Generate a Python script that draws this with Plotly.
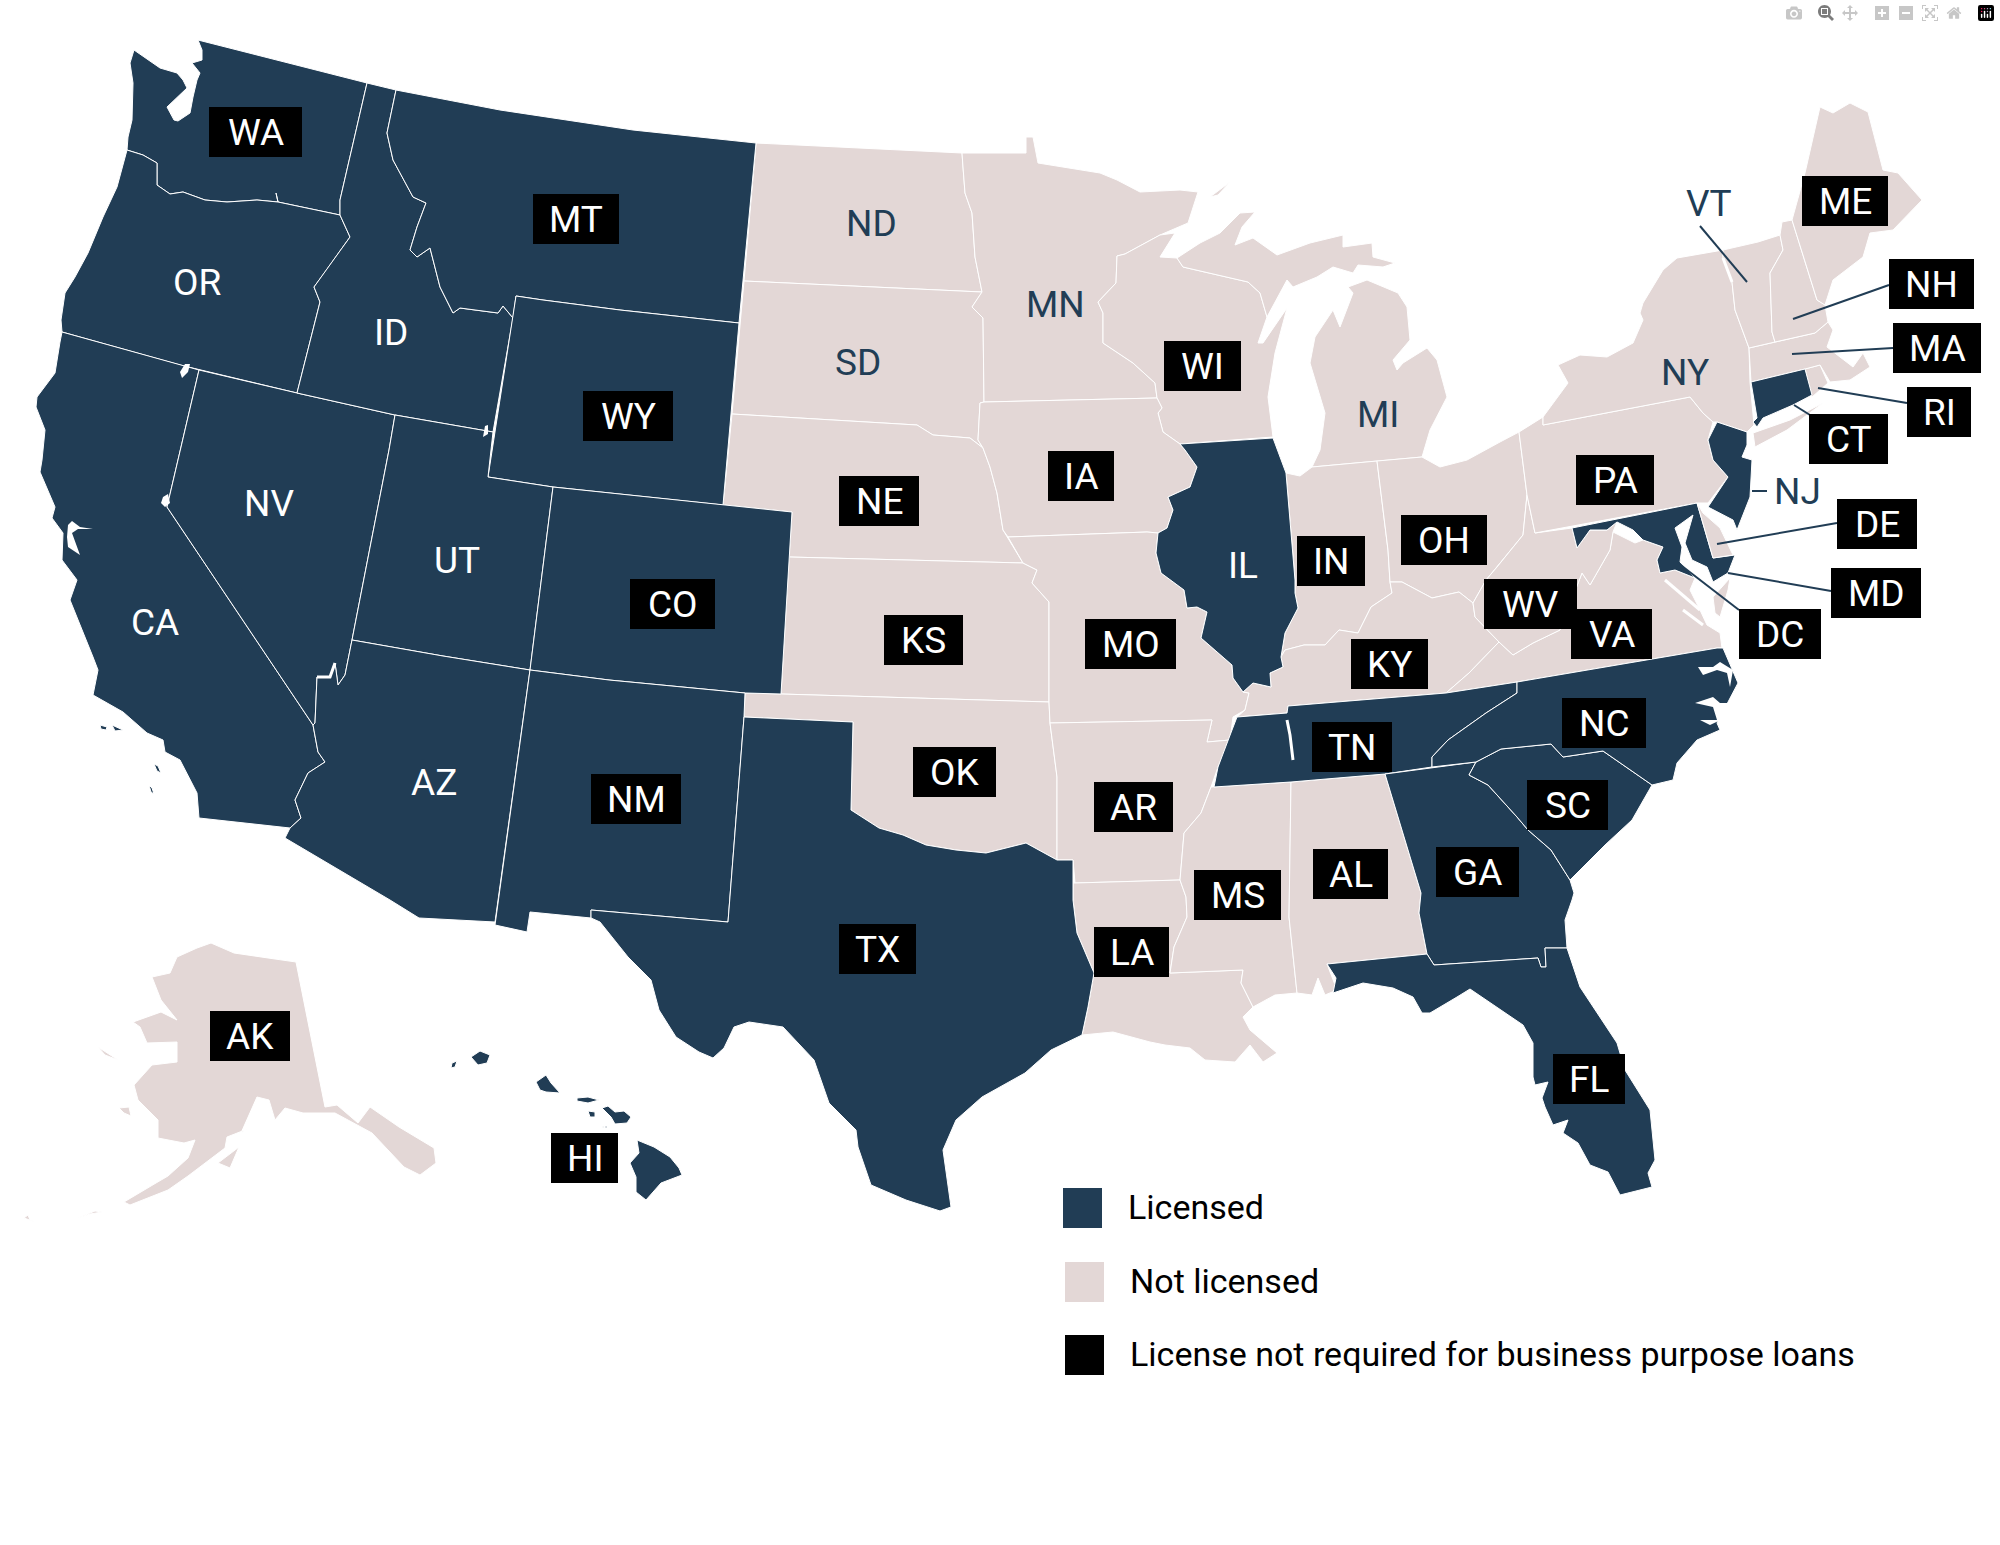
import plotly.graph_objects as go

# State outlines (picture units, y down)
WA = [(198,40),(367,83),(340,200),(340,215),(278,202),(276,193),(278,202),(257,200),(227,202),(205,200),(183,192),(170,194),(157,185),(157,163),(143,155),(127,150),(128,137),(132,120),(133,83),(130,63),(134,50),(160,68),(177,73),(183,80),(187,88),(167,107),(174,120),(178,121),(190,113),(193,97),(197,80),(200,73),(192,63),(202,60),(202,50)]
OR = [(127,150),(143,155),(157,163),(157,185),(170,194),(183,192),(205,200),(227,202),(257,200),(278,202),(340,215),(350,237),(325,272),(314,287),(320,302),(297,393),(180,365),(62,332),(61,320),(65,293),(75,277),(88,253),(103,217),(117,187)]
CA = [(62,332),(180,365),(199,370),(167,507),(313,725),(318,752),(325,762),(308,773),(295,800),(301,818),(290,828),(199,818),(197,793),(180,760),(165,752),(163,740),(147,733),(123,712),(93,695),(98,670),(93,657),(70,600),(77,580),(62,560),(63,533),(52,518),(55,507),(40,472),(42,460),(45,430),(36,407),(37,397),(55,373),(60,342)]
CA_ISLANDS = [[(100,725),(107,727),(106,730),(101,729)],[(112,725),(118,728),(123,730),(115,731)],[(154,764),(158,766),(161,773),(157,771)],[(149,785),(152,788),(154,794),(151,792)]]
NV = [(199,370),(297,393),(395,415),(389,450),(352,640),(345,675),(338,685),(335,663),(330,677),(317,677),(315,723),(313,725),(167,507)]
ID = [(367,83),(396,90),(387,133),(393,160),(413,197),(426,203),(417,227),(410,250),(417,257),(430,248),(440,287),(453,313),(460,308),(498,313),(503,306),(513,318),(493,432),(395,415),(297,393),(320,302),(314,287),(325,272),(350,237),(340,215),(340,200)]
MT = [(396,90),(500,110),(633,130),(756,143),(739,323),(620,310),(543,300),(516,296),(513,318),(503,306),(498,313),(460,308),(453,313),(440,287),(430,248),(417,257),(410,250),(417,227),(426,203),(413,197),(393,160),(387,133)]
WY = [(516,296),(543,300),(620,310),(739,323),(723,505),(553,487),(488,477)]
UT = [(395,415),(493,432),(488,477),(553,487),(530,670),(443,656),(352,640),(389,450)]
CO = [(553,487),(723,505),(792,512),(781,694),(745,693),(609,680),(530,670)]
AZ = [(352,640),(443,656),(530,670),(495,922),(419,918),(390,900),(285,838),(290,828),(301,818),(295,800),(308,773),(325,762),(318,752),(313,725),(315,723),(317,677),(330,677),(335,663),(338,685),(345,675)]
NM = [(530,670),(609,680),(745,693),(744,717),(728,922),(591,910),(591,918),(530,912),(527,932),(495,925)]
TX = [(744,717),(853,722),(851,810),(879,828),(903,835),(926,845),(956,850),(986,853),(1026,843),(1057,860),(1073,860),(1073,900),(1077,933),(1094,973),(1088,1007),(1082,1035),(1051,1050),(1025,1073),(982,1097),(956,1120),(943,1150),(951,1207),(940,1211),(906,1200),(871,1185),(858,1147),(856,1130),(829,1103),(814,1060),(783,1027),(749,1022),(734,1027),(724,1048),(713,1058),(699,1052),(676,1037),(659,1010),(651,980),(628,957),(600,922),(591,918),(591,910),(728,922)]
ND = [(756,143),(962,153),(963,167),(965,193),(972,213),(975,257),(982,292),(744,281)]
SD = [(744,281),(982,292),(972,307),(983,318),(984,402),(980,403),(978,440),(983,448),(970,438),(933,435),(917,425),(732,414)]
NE = [(732,414),(917,425),(933,435),(970,438),(983,448),(990,467),(997,493),(1003,530),(1023,563),(789,557),(792,512),(723,505)]
KS = [(789,557),(1023,563),(1037,570),(1032,583),(1049,602),(1049,702),(781,694)]
OK = [(781,694),(1049,702),(1050,723),(1057,777),(1057,860),(1026,843),(986,853),(956,850),(926,845),(903,835),(879,828),(851,810),(853,722),(744,717),(745,693)]
MN = [(962,153),(1026,153),(1026,137),(1033,137),(1038,163),(1080,170),(1100,173),(1117,180),(1140,192),(1180,190),(1198,192),(1188,223),(1160,235),(1125,254),(1117,256),(1116,283),(1098,302),(1103,313),(1103,343),(1133,363),(1155,383),(1157,398),(984,402),(983,318),(972,307),(982,292),(975,257),(972,213),(965,193),(963,167)]
MN_ISLE = [(1210,197),(1230,182),(1218,195)]
WI = [(1117,256),(1125,254),(1160,235),(1175,233),(1160,257),(1177,258),(1183,267),(1248,282),(1260,293),(1267,317),(1258,343),(1263,343),(1287,308),(1282,327),(1275,353),(1268,397),(1273,437),(1180,444),(1163,432),(1158,413),(1162,408),(1157,398),(1155,383),(1133,363),(1103,343),(1103,313),(1098,302),(1116,283)]
MI_UPPER = [(1177,258),(1200,243),(1220,233),(1240,213),(1255,212),(1242,227),(1235,245),(1253,238),(1277,255),(1310,243),(1343,235),(1343,247),(1372,243),(1373,257),(1395,263),(1383,267),(1358,265),(1353,273),(1333,267),(1317,277),(1293,287),(1287,280),(1267,317),(1260,293),(1248,282),(1183,267)]
MI_LOWER = [(1312,467),(1377,461),(1422,457),(1430,430),(1447,397),(1437,360),(1427,348),(1403,363),(1397,370),(1393,360),(1410,340),(1407,307),(1398,293),(1367,280),(1348,287),(1353,293),(1340,327),(1333,310),(1315,337),(1310,363),(1325,413),(1320,450)]
IA = [(984,402),(1157,398),(1162,408),(1158,413),(1163,432),(1180,444),(1185,450),(1197,467),(1190,487),(1168,497),(1173,510),(1167,528),(1158,533),(1147,532),(1008,537),(1003,530),(997,493),(990,467),(983,448),(978,440),(980,403)]
MO = [(1008,537),(1147,532),(1158,533),(1156,553),(1161,573),(1184,590),(1187,608),(1197,607),(1207,612),(1201,638),(1232,665),(1233,678),(1243,692),(1249,693),(1245,710),(1233,717),(1230,740),(1207,742),(1212,720),(1050,723),(1049,702),(1049,602),(1032,583),(1037,570),(1023,563)]
IL = [(1180,444),(1273,438),(1286,473),(1295,580),(1295,593),(1298,608),(1285,633),(1281,657),(1283,667),(1270,673),(1271,687),(1253,683),(1243,692),(1233,678),(1232,665),(1201,638),(1207,612),(1197,607),(1187,608),(1184,590),(1161,573),(1156,553),(1158,533),(1167,528),(1173,510),(1168,497),(1190,487),(1197,467),(1185,450)]
IN = [(1286,473),(1300,476),(1312,467),(1377,461),(1388,550),(1390,582),(1392,593),(1371,607),(1358,633),(1339,630),(1325,645),(1304,645),(1285,650),(1281,657),(1285,633),(1298,608),(1295,593),(1295,580)]
OH = [(1377,461),(1422,457),(1440,467),(1467,460),(1500,442),(1519,432),(1527,495),(1523,535),(1505,557),(1497,567),(1486,580),(1473,603),(1459,592),(1432,598),(1402,582),(1390,582),(1388,550)]
KY = [(1237,717),(1287,713),(1288,706),(1446,693),(1469,673),(1499,642),(1475,617),(1473,603),(1459,592),(1432,598),(1402,582),(1390,582),(1392,593),(1371,607),(1358,633),(1339,630),(1325,645),(1304,645),(1285,650),(1281,657),(1283,667),(1270,673),(1271,687),(1253,683),(1243,692),(1249,693),(1245,710)]
TN = [(1237,717),(1287,713),(1288,706),(1446,693),(1517,682),(1517,693),(1486,713),(1448,740),(1432,757),(1432,767),(1385,774),(1291,782),(1214,787),(1218,767),(1232,730)]
AR = [(1050,723),(1212,720),(1207,742),(1230,740),(1218,767),(1211,787),(1201,813),(1184,833),(1180,880),(1075,883),(1073,860),(1057,860),(1057,777)]
LA = [(1075,883),(1180,880),(1186,897),(1187,917),(1174,947),(1170,973),(1243,970),(1241,983),(1253,1007),(1243,1017),(1250,1030),(1277,1053),(1263,1062),(1250,1045),(1235,1062),(1205,1060),(1190,1048),(1165,1045),(1150,1042),(1113,1032),(1082,1035),(1088,1007),(1094,973),(1077,933),(1073,900),(1073,883)]
MS = [(1211,787),(1291,782),(1289,917),(1297,993),(1275,995),(1253,1007),(1241,983),(1243,970),(1170,973),(1174,947),(1187,917),(1186,897),(1180,880),(1184,833),(1201,813)]
AL = [(1291,782),(1385,774),(1421,893),(1419,913),(1427,954),(1327,964),(1337,990),(1325,995),(1318,978),(1312,995),(1297,993),(1289,917)]
GA = [(1385,774),(1476,762),(1469,775),(1488,785),(1517,817),(1528,830),(1551,850),(1570,880),(1574,893),(1572,900),(1565,920),(1567,948),(1545,948),(1546,967),(1541,967),(1538,958),(1434,965),(1427,954),(1419,913),(1421,893)]
FL = [(1327,964),(1427,954),(1434,965),(1538,958),(1541,967),(1546,967),(1545,948),(1567,948),(1580,987),(1617,1043),(1625,1070),(1650,1110),(1655,1160),(1648,1173),(1652,1187),(1620,1195),(1608,1172),(1590,1165),(1578,1143),(1563,1133),(1568,1120),(1553,1125),(1545,1107),(1542,1098),(1548,1082),(1535,1085),(1533,1077),(1533,1043),(1523,1025),(1497,1007),(1470,989),(1457,997),(1430,1013),(1422,1013),(1413,997),(1393,988),(1363,983),(1333,993),(1336,978)]
SC = [(1476,762),(1501,749),(1551,744),(1563,757),(1603,751),(1652,785),(1632,820),(1605,845),(1570,880),(1551,850),(1528,830),(1517,817),(1488,785),(1469,775)]
NC = [(1517,682),(1717,648),(1723,648),(1738,683),(1717,723),(1720,730),(1697,740),(1677,763),(1673,780),(1652,785),(1603,751),(1563,757),(1551,744),(1501,749),(1476,762),(1432,767),(1432,757),(1448,740),(1486,713),(1517,693)]
VA = [(1446,693),(1469,673),(1499,642),(1513,655),(1533,643),(1560,630),(1582,573),(1590,585),(1610,550),(1613,532),(1635,543),(1643,540),(1663,547),(1657,560),(1660,573),(1675,570),(1695,578),(1690,590),(1700,610),(1707,625),(1720,633),(1722,648),(1717,648),(1517,682)]
VA_SHORE = [(1713,597),(1730,578),(1728,590),(1720,617),(1715,613)]
WV = [(1527,495),(1535,533),(1572,528),(1577,548),(1590,530),(1607,530),(1617,522),(1613,532),(1610,550),(1590,585),(1582,573),(1560,630),(1533,643),(1513,655),(1499,642),(1475,617),(1473,603),(1486,580),(1497,567),(1505,557),(1523,535)]
PA = [(1519,432),(1543,417),(1543,425),(1690,397),(1703,413),(1713,422),(1708,440),(1713,460),(1728,477),(1708,503),(1697,503),(1535,533),(1527,495)]
NY = [(1543,417),(1568,383),(1558,365),(1580,355),(1607,357),(1633,343),(1643,320),(1640,313),(1643,303),(1663,270),(1677,258),(1723,250),(1723,258),(1732,282),(1735,310),(1749,348),(1750,382),(1754,425),(1747,432),(1717,422),(1713,422),(1703,413),(1690,397),(1543,425)]
NY_ISLAND = [(1753,433),(1790,420),(1823,403),(1787,430),(1755,447)]
NJ = [(1717,422),(1747,432),(1747,445),(1742,457),(1752,460),(1750,497),(1737,530),(1733,520),(1708,507),(1728,477),(1713,460),(1708,440)]
DE = [(1697,503),(1703,513),(1720,528),(1733,555),(1713,558)]
MD = [(1572,528),(1697,503),(1713,558),(1735,555),(1728,573),(1713,582),(1707,567),(1692,560),(1685,543),(1693,515),(1675,528),(1682,547),(1680,562),(1695,578),(1675,570),(1660,573),(1657,560),(1663,547),(1643,540),(1633,530),(1617,522),(1607,530),(1590,530),(1577,548)]
CT = [(1751,382),(1805,369),(1812,395),(1793,405),(1763,418),(1757,427),(1753,422),(1757,418)]
RI = [(1805,369),(1820,365),(1828,383),(1812,397)]
MA = [(1749,348),(1815,333),(1828,322),(1833,330),(1827,347),(1853,367),(1863,353),(1870,367),(1850,380),(1830,382),(1820,365),(1805,369),(1751,382)]
VT = [(1723,250),(1758,242),(1780,235),(1783,250),(1770,273),(1772,332),(1775,342),(1749,348),(1735,310),(1732,282),(1723,258)]
NH = [(1782,222),(1792,220),(1817,300),(1825,305),(1828,322),(1815,333),(1775,342),(1772,332),(1770,273),(1783,250),(1780,235)]
ME = [(1792,220),(1805,173),(1820,107),(1833,113),(1850,103),(1868,112),(1883,170),(1898,173),(1922,200),(1893,230),(1870,233),(1863,257),(1833,280),(1825,305),(1817,300)]
AK = [(211,943),(234,953),(275,959),(296,962),(325,1107),(337,1105),(358,1123),(370,1107),(399,1127),(434,1148),(436,1163),(420,1175),(404,1167),(372,1133),(335,1113),(303,1113),(285,1108),(275,1120),(269,1100),(257,1097),(241,1133),(262,1118),(245,1130),(227,1137),(225,1148),(188,1176),(168,1190),(130,1205),(124,1202),(156,1183),(168,1176),(188,1158),(195,1140),(184,1143),(158,1138),(158,1120),(138,1100),(134,1085),(152,1065),(177,1062),(177,1042),(147,1043),(140,1027),(133,1022),(161,1012),(177,1020),(161,1000),(152,977),(170,973),(177,957),(197,948)]
AK_ISLANDS = [[(98,1047),(110,1055),(118,1060),(105,1055)],[(119,1108),(129,1107),(131,1116),(124,1113)],[(218,1163),(239,1147),(230,1168)],[(102,1212),(95,1211),(78,1218),(90,1214)],[(28,1215),(30,1220),(35,1222),(24,1218)]]
HI = [[(471,1057),(480,1051),(490,1055),(487,1063),(478,1065)],[(451,1068),(452,1063),(457,1061),(455,1067)],[(536,1082),(546,1075),(551,1083),(560,1093),(546,1092),(540,1090)],[(577,1098),(588,1097),(599,1100),(588,1103),(577,1101)],[(588,1111),(595,1112),(595,1117),(590,1117)],[(602,1108),(608,1106),(615,1112),(624,1111),(631,1117),(627,1123),(615,1124),(611,1117)],[(602,1127),(607,1126),(607,1128)],[(637,1140),(654,1147),(670,1157),(679,1168),(682,1175),(661,1183),(646,1200),(636,1192),(636,1177),(630,1163),(639,1153)]]

# Lakes and sounds, drawn white over the states
WATER = [
    [(163,497),(168,494),(170,503),(165,507),(161,503)],
    [(182,378),(180,372),(185,364),(190,364),(188,372)],
    [(483,437),(485,426),(488,425),(488,434)],
    [(68,525),(72,521),(80,527),(93,529),(78,529),(72,533),(80,555),(68,547),(67,537)],
    [(1698,667),(1703,675),(1717,670),(1727,673),(1730,687),(1733,670),(1720,662),(1713,667)],
    [(1695,703),(1713,707),(1717,720),(1700,720),(1710,725),(1727,717),(1733,713),(1730,703),(1720,703),(1713,697)],
]
WATER_LINES = [
    [(317,677),(330,677),(335,663)],
    [(1723,258),(1732,282)],
    [(1287,720),(1290,735),(1293,760)],
    [(1665,580),(1700,610)],
    [(1683,610),(1703,625)],
]

LICENSED = ["WA", "OR", "CA", "NV", "ID", "MT", "WY", "UT", "CO", "AZ", "NM", "TX", "IL", "TN", "GA", "FL", "SC", "NC", "NJ", "MD", "CT", "HI"]
NOT_LICENSED = ["ND", "SD", "NE", "KS", "OK", "MN", "WI", "MI", "IA", "MO", "IN", "OH", "KY", "AR", "LA", "MS", "AL", "VA", "WV", "PA", "NY", "DE", "RI", "MA", "VT", "NH", "ME", "AK"]

OUTLINES = {
    "WA": [WA], "OR": [OR], "CA": [CA] + CA_ISLANDS, "NV": [NV], "ID": [ID], "MT": [MT], "WY": [WY], "UT": [UT],
    "CO": [CO], "AZ": [AZ], "NM": [NM], "TX": [TX], "IL": [IL], "TN": [TN], "GA": [GA], "FL": [FL], "SC": [SC],
    "NC": [NC], "NJ": [NJ], "MD": [MD], "CT": [CT], "HI": HI, "ND": [ND], "SD": [SD], "NE": [NE], "KS": [KS],
    "OK": [OK], "MN": [MN, MN_ISLE], "WI": [WI], "MI": [MI_UPPER, MI_LOWER], "IA": [IA], "MO": [MO], "IN": [IN],
    "OH": [OH], "KY": [KY], "AR": [AR], "LA": [LA], "MS": [MS], "AL": [AL], "VA": [VA, VA_SHORE], "WV": [WV],
    "PA": [PA], "NY": [NY, NY_ISLAND], "DE": [DE], "RI": [RI], "MA": [MA], "VT": [VT], "NH": [NH], "ME": [ME],
    "AK": [AK] + AK_ISLANDS,
}

# States whose abbreviation sits in a black box
BOX_STATES = ["WA", "MT", "WY", "NE", "CO", "NM", "OK", "KS", "TX", "AK", "HI", "FL", "WI", "IA", "OH", "MO", "IN", "KY", "WV", "VA", "TN", "AR", "AL", "MS", "LA", "GA", "SC", "NC", "PA", "ME", "NH", "MA", "RI", "CT", "DE", "MD", "DC"]
BOX_LEFT = [209, 533, 583, 839, 630, 591, 913, 884, 839, 210, 551, 1553, 1164, 1048, 1401, 1085, 1297, 1351, 1484, 1571, 1312, 1094, 1313, 1194, 1094, 1436, 1527, 1562, 1576, 1802, 1889, 1893, 1907, 1809, 1837, 1831, 1739]
BOX_RIGHT = [302, 619, 673, 919, 715, 681, 996, 963, 916, 290, 618, 1625, 1241, 1114, 1487, 1176, 1365, 1428, 1577, 1652, 1392, 1173, 1388, 1281, 1169, 1519, 1608, 1646, 1654, 1888, 1974, 1981, 1971, 1888, 1917, 1921, 1821]
BOX_TOP = [107, 194, 391, 476, 579, 774, 747, 615, 924, 1011, 1133, 1054, 341, 451, 515, 619, 536, 639, 579, 609, 722, 782, 849, 870, 927, 847, 780, 698, 455, 176, 259, 323, 387, 414, 499, 568, 609]

# Plain labels: white on the dark states, dark on the light ones
WHITE_STATES = ["OR", "ID", "NV", "UT", "CA", "AZ", "IL"]
WHITE_X = [197, 391, 269, 457, 155, 434, 1243]
WHITE_Y = [282, 332, 503, 560, 622, 782, 565]
DARK_STATES = ["ND", "SD", "MN", "MI", "NY", "VT", "NJ"]
DARK_X = [871, 858, 1055, 1378, 1685, 1709, 1797]
DARK_Y = [223, 362, 304, 414, 372, 203, 491]

# Leader lines from the small north-east states to their labels
LEADER_X0 = [1700, 1889, 1893, 1907, 1810, 1752, 1837, 1831, 1739]
LEADER_Y0 = [226, 285, 348, 403, 415, 491, 523, 591, 610]
LEADER_X1 = [1747, 1793, 1792, 1818, 1794, 1767, 1717, 1728, 1678]
LEADER_Y1 = [282, 319, 354, 388, 405, 491, 544, 573, 563]

LEGEND_LABELS = ["Licensed", "Not licensed", "License not required for business purpose loans"]
LEGEND_COLORS = ["#213d55", "#e3d7d6", "#000000"]
LEGEND_LEFT = [1063, 1065, 1065]
LEGEND_TOP = [1188, 1262, 1335]

DARK = "#213d55"
LIGHT = "#e3d7d6"
FONT = "Roboto"
SIZE = 37

fig = go.Figure()


def add_shape_trace(rings, color, line_color="white", line_width=1):
    xs, ys = [], []
    for ring in rings:
        xs += [p[0] for p in ring] + [ring[0][0], None]
        ys += [p[1] for p in ring] + [ring[0][1], None]
    fig.add_trace(go.Scatter(x=xs, y=ys, mode="lines", fill="toself", fillcolor=color,
                             line=dict(color=line_color, width=line_width), hoverinfo="skip", showlegend=False))


for st in NOT_LICENSED:
    add_shape_trace(OUTLINES[st], LIGHT)
for st in LICENSED:
    add_shape_trace(OUTLINES[st], DARK)
# delaware goes back on top of maryland's shore
add_shape_trace(OUTLINES["DE"], LIGHT)
add_shape_trace(WATER, "white", line_width=0)

for ln in WATER_LINES:
    fig.add_trace(go.Scatter(x=[p[0] for p in ln], y=[p[1] for p in ln], mode="lines",
                             line=dict(color="white", width=3), hoverinfo="skip", showlegend=False))

for x0, y0, x1, y1 in zip(LEADER_X0, LEADER_Y0, LEADER_X1, LEADER_Y1):
    fig.add_trace(go.Scatter(x=[x0, x1], y=[y0, y1], mode="lines",
                             line=dict(color=DARK, width=2), hoverinfo="skip", showlegend=False))

# black label boxes
for left, right, top in zip(BOX_LEFT, BOX_RIGHT, BOX_TOP):
    fig.add_shape(type="rect", x0=left, x1=right, y0=top, y1=top + 50, fillcolor="black", line_width=0, layer="above")
for st, left, right, top in zip(BOX_STATES, BOX_LEFT, BOX_RIGHT, BOX_TOP):
    fig.add_annotation(x=(left + right) / 2, y=top + 25, text=st, showarrow=False,
                       font=dict(family=FONT, size=SIZE, color="white"))

for st, x, y in zip(WHITE_STATES, WHITE_X, WHITE_Y):
    fig.add_annotation(x=x, y=y, text=st, showarrow=False, font=dict(family=FONT, size=SIZE, color="white"))
for st, x, y in zip(DARK_STATES, DARK_X, DARK_Y):
    fig.add_annotation(x=x, y=y, text=st, showarrow=False, font=dict(family=FONT, size=SIZE, color=DARK))

for label, color, left, top in zip(LEGEND_LABELS, LEGEND_COLORS, LEGEND_LEFT, LEGEND_TOP):
    fig.add_shape(type="rect", x0=left, x1=left + 39, y0=top, y1=top + 40, fillcolor=color, line_width=0)
    fig.add_annotation(x=left + 63, y=top + 19, text=label, showarrow=False, xanchor="left",
                       font=dict(family=FONT, size=34, color="black"))

fig.update_xaxes(range=[0, 2000], visible=False)
fig.update_yaxes(range=[1545, 0], visible=False)
fig.update_layout(width=2000, height=1545, margin=dict(l=0, r=0, t=0, b=0),
                  paper_bgcolor="white", plot_bgcolor="white", showlegend=False)

fig.write_html("out.html", post_script="document.body.style.margin='0';")
